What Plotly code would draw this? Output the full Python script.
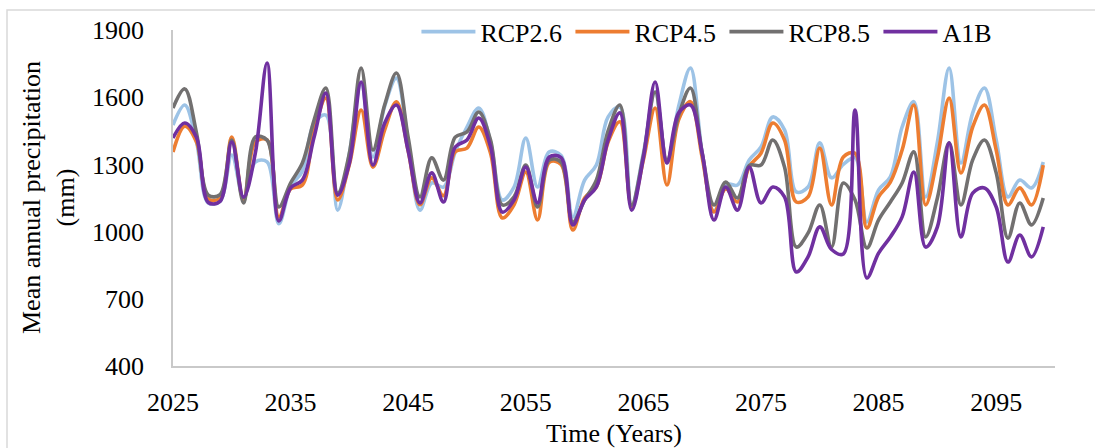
import plotly.graph_objects as go

# Mean annual precipitation (mm), 2025-2099, per scenario
years = list(range(2025, 2100))

rcp26 = [1476, 1565, 1400, 1128, 1135, 1342, 1150, 1311, 1311, 1035,
         1200, 1270, 1485, 1520, 1096, 1350, 1660, 1333, 1560, 1685,
         1400, 1096, 1217, 1199, 1356, 1467, 1552, 1400, 1141, 1199,
         1418, 1199, 1356, 1340, 1065, 1230, 1297, 1512, 1556, 1120,
         1350, 1623, 1306, 1560, 1730, 1350, 1090, 1212, 1208, 1320,
         1378, 1512, 1454, 1177, 1199, 1396, 1240, 1300, 1330, 1043,
         1186, 1244, 1467, 1580, 1155, 1400, 1730, 1306, 1530, 1641,
         1409, 1155, 1230, 1195, 1311]

rcp45 = [1355, 1471, 1400, 1145, 1150, 1422, 1140, 1400, 1409, 1065,
         1190, 1208, 1450, 1596, 1141, 1300, 1543, 1288, 1454, 1580,
         1360, 1120, 1240, 1160, 1356, 1373, 1467, 1350, 1061, 1120,
         1266, 1052, 1310, 1300, 1007, 1150, 1199, 1400, 1490, 1110,
         1320, 1552, 1208, 1500, 1580, 1330, 1088, 1190, 1132, 1290,
         1350, 1485, 1409, 1132, 1155, 1373, 1119, 1333, 1350, 1016,
         1155, 1221, 1364, 1565, 1119, 1330, 1596, 1262, 1467, 1565,
         1364, 1119, 1195, 1119, 1297]

rcp85 = [1552, 1637, 1440, 1163, 1165, 1409, 1128, 1422, 1409, 1110,
         1217, 1306, 1498, 1641, 1172, 1350, 1730, 1364, 1566, 1708,
         1420, 1155, 1329, 1230, 1422, 1445, 1534, 1409, 1119, 1155,
         1297, 1110, 1320, 1310, 1043, 1141, 1230, 1450, 1565, 1118,
         1340, 1623, 1320, 1520, 1641, 1350, 1119, 1221, 1150, 1295,
         1297, 1409, 1288, 931, 993, 1119, 931, 1217, 1141, 927,
         1052, 1132, 1217, 1356, 976, 1150, 1396, 1119, 1320, 1409,
         1262, 971, 1128, 1030, 1150]

a1b = [1418, 1485, 1420, 1130, 1135, 1400, 1154, 1350, 1753, 1048,
       1195, 1230, 1422, 1618, 1163, 1306, 1668, 1297, 1485, 1565,
       1360, 1128, 1262, 1132, 1378, 1409, 1507, 1380, 1087, 1141,
       1288, 1128, 1333, 1330, 1030, 1141, 1199, 1409, 1530, 1096,
       1330, 1668, 1306, 1530, 1565, 1350, 1052, 1199, 1096, 1288,
       1128, 1199, 1155, 820, 887, 1021, 920, 900, 1543, 793,
       904, 976, 1066, 1266, 931, 1021, 1396, 976, 1172, 1195,
       1110, 864, 985, 887, 1021]

series = [
    ("RCP2.6", rcp26, "#9DC3E6"),
    ("RCP4.5", rcp45, "#ED7D31"),
    ("RCP8.5", rcp85, "#727070"),
    ("A1B", a1b, "#7030A0"),
]

y_ticks = [400, 700, 1000, 1300, 1600, 1900]
x_ticks = [2025, 2035, 2045, 2055, 2065, 2075, 2085, 2095]

FONT = "Liberation Serif, Times New Roman, serif"

fig = go.Figure()
for name, vals, color in series:
    fig.add_trace(go.Scatter(
        x=years, y=vals, name=name, mode="lines",
        line=dict(color=color, width=3.6, shape="spline", smoothing=1.0),
    ))

fig.update_layout(
    width=1095, height=448,
    margin=dict(l=173, r=40, t=30, b=82, autoexpand=False),
    paper_bgcolor="white", plot_bgcolor="white",
    font=dict(family=FONT, size=26, color="black"),
    showlegend=True,
    legend=dict(
        orientation="h", x=0.276, y=0.995, xanchor="left", yanchor="middle",
        font=dict(family=FONT, size=26),
        itemwidth=54, entrywidth=85, entrywidthmode="pixels",
        bgcolor="rgba(0,0,0,0)",
    ),
    xaxis=dict(
        range=[2025, 2100], tickvals=x_ticks, ticktext=[str(t) for t in x_ticks],
        showgrid=False, zeroline=False, showline=True, linecolor="#C9C9C9",
        linewidth=1.5, ticks="", ticklabelstandoff=12,
        title=dict(text="Time (Years)", font=dict(family=FONT, size=26), standoff=14),
    ),
    yaxis=dict(
        range=[400, 1900], tickvals=y_ticks, ticktext=[str(t) for t in y_ticks],
        showgrid=False, zeroline=False, showline=True, linecolor="#C9C9C9",
        linewidth=1.5, ticks="", ticklabelstandoff=22,
    ),
    annotations=[dict(
        text="Mean annual precipitation<br>(mm)", textangle=-90,
        xref="paper", yref="paper", x=0, y=0.5, xanchor="center", yanchor="middle",
        xshift=-125, showarrow=False, font=dict(family=FONT, size=26),
    )],
    shapes=[dict(
        type="rect", xref="paper", yref="paper",
        x0=-0.1882, x1=1.051, y0=-0.30, y1=1.0595,
        line=dict(color="#D9D9D9", width=1.5), fillcolor="rgba(0,0,0,0)", layer="below",
    )],
)

fig.write_html("out.html")
